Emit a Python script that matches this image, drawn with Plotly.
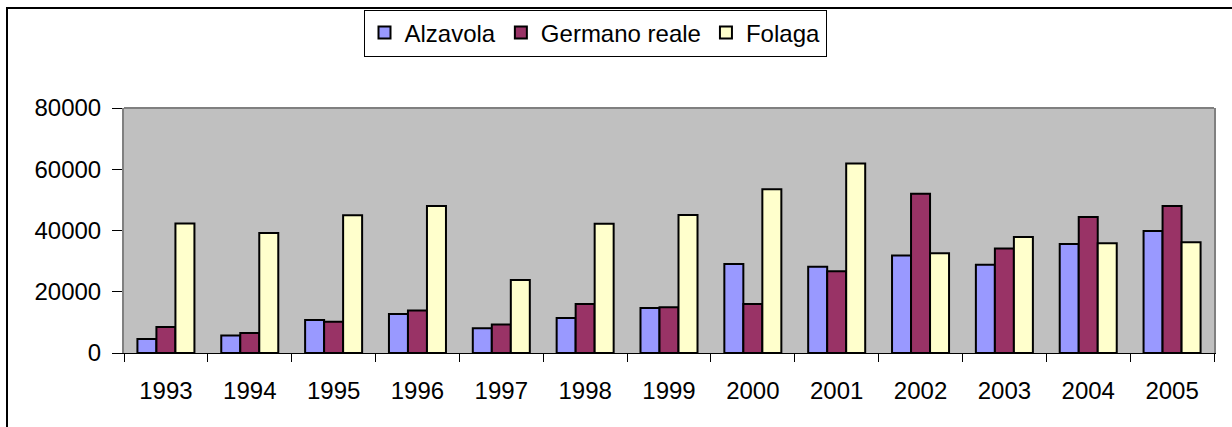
import plotly.graph_objects as go

years = ["1993", "1994", "1995", "1996", "1997", "1998", "1999",
         "2000", "2001", "2002", "2003", "2004", "2005"]
alzavola = [4600, 5700, 10800, 12700, 8100, 11400, 14700,
            29100, 28200, 31800, 28800, 35600, 39800]
germano_reale = [8500, 6500, 10200, 13900, 9300, 16000, 14900,
                 16000, 26700, 52000, 34100, 44400, 48000]
folaga = [42300, 39200, 45000, 48000, 23800, 42200, 45100,
          53500, 61900, 32600, 37900, 35800, 36200]

series = [
    ("Alzavola", alzavola, "#9999FF"),
    ("Germano reale", germano_reale, "#993366"),
    ("Folaga", folaga, "#FFFFCC"),
]

FONT = "Liberation Sans, Arial, sans-serif"
FS = 24

fig = go.Figure()
for name, vals, col in series:
    fig.add_trace(go.Bar(
        x=years, y=vals, name=name,
        marker=dict(color=col, line=dict(color="black", width=2)),
    ))

W, H = 1232, 427
L, T = 124, 108
PR, PB = 1214, 353
R, B = W - PR, H - PB
pw, ph = PR - L, PB - T

def px(x):
    return (x - L) / pw

def py(y):
    return (PB - y) / ph

fig.update_layout(
    width=W, height=H,
    margin=dict(l=L, r=R, t=T, b=B, autoexpand=False),
    paper_bgcolor="white",
    plot_bgcolor="#C0C0C0",
    barmode="group",
    bargap=0.32,
    bargroupgap=0,
    font=dict(family=FONT, size=FS, color="black"),
    showlegend=True,
    legend=dict(
        orientation="h",
        x=px(595), xanchor="center",
        y=py(33), yanchor="middle",
        bordercolor="black", borderwidth=1,
        bgcolor="white",
        font=dict(family=FONT, size=24, color="black"),
        itemwidth=30,
        tracegroupgap=0,
    ),
    xaxis=dict(
        type="category",
        showline=True, linecolor="black", linewidth=1,
        ticks="outside", tickson="boundaries", ticklen=8,
        tickcolor="black", tickwidth=1,
        showgrid=False,
        ticklabelstandoff=16,
        tickfont=dict(family=FONT, size=FS, color="black"),
    ),
    yaxis=dict(
        range=[0, 80000], dtick=20000, tick0=0, tickformat="d",
        showline=True, linecolor="#808080", linewidth=2, mirror=True,
        ticks="outside", ticklen=10, tickcolor="black", tickwidth=1,
        showgrid=False, zeroline=False,
        ticklabelstandoff=6,
        tickfont=dict(family=FONT, size=FS, color="black"),
    ),
    shapes=[
        dict(type="line", xref="paper", yref="paper", x0=0, x1=1, y0=1, y1=1,
             line=dict(color="#808080", width=2)),
        dict(type="rect", xref="paper", yref="paper",
             x0=px(7), x1=px(1260), y0=py(8), y1=py(460),
             line=dict(color="black", width=2), layer="below"),
    ],
)

fig.write_html(
    "out.html",
    config={"displayModeBar": False},
    post_script="document.body.style.margin='0';document.body.style.overflow='hidden';",
)
